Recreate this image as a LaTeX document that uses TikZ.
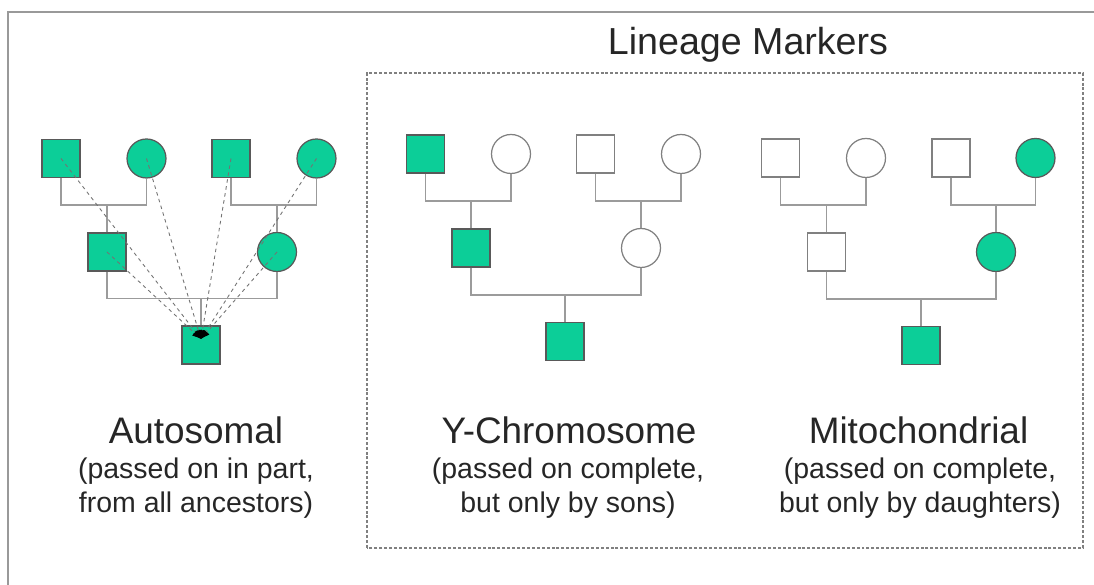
\documentclass[tikz,border=0pt]{standalone}
\usepackage{fontspec}
\setmainfont{Liberation Sans}
\usepackage{xcolor}
\usepackage{tikz}
\usetikzlibrary{arrows.meta,calc}

\definecolor{marker}{RGB}{12,206,152}
\definecolor{linegray}{RGB}{155,155,155}

% parents joined by a bar, child hanging from it
\newcommand{\couple}[3]{
    \coordinate (bar) at ($(#1.south)!0.5!(#3.north)$);
    \draw[link] (#1.south) -- (#1.south |- bar) -- (#2.south |- bar) -- (#2.south);
    \draw[link] (#3.north) -- (#3.north |- bar);
}

\tikzset{
    male/.style={rectangle, draw=black!50, line width=0.7pt, minimum size=0.76cm, inner sep=0pt},
    female/.style={circle, draw=black!50, line width=0.7pt, minimum size=0.78cm, inner sep=0pt},
    marked/.style={fill=marker, draw=black!65},
    link/.style={draw=linegray, line width=1.1pt},
    gene/.style={draw=black!55, line width=0.5pt, dash pattern=on 2pt off 2pt,
        -{Latex[black,length=5pt,width=4pt]}},
    heading/.style={font=\fontsize{21}{25}\selectfont, anchor=base, text=black!85},
    remark/.style={font=\fontsize{16.2}{19.4}\selectfont, anchor=base, text=black!85},
}

\begin{document}
\begin{tikzpicture}
        \useasboundingbox (0,0) rectangle (21.88,11.7);

        % page frame and the lineage box
        \draw[black!40, line width=1pt] (0.16,0) |- (21.88,11.46);
        \draw[black!50, line width=0.7pt, dash pattern=on 1.7pt off 1.1pt] (7.34,0.74) rectangle (21.66,10.24);
        \node[heading, font=\fontsize{21.4}{25}\selectfont] (title) at (14.96,10.6) {Lineage Markers};

        % autosomal family
        \node[male,marked] (a1) at (1.22,8.53) {};
        \node[female,marked] (a2) at (2.93,8.53) {};
        \node[male,marked] (a3) at (4.62,8.53) {};
        \node[female,marked] (a4) at (6.33,8.53) {};
        \node[male,marked] (a5) at (2.14,6.66) {};
        \node[female,marked] (a6) at (5.54,6.66) {};
        \node[male,marked] (a7) at (4.02,4.80) {};

        % y-chromosome family
        \node[male,marked] (y1) at (8.51,8.62) {};
        \node[female] (y2) at (10.22,8.62) {};
        \node[male] (y3) at (11.91,8.62) {};
        \node[female] (y4) at (13.62,8.62) {};
        \node[male,marked] (y5) at (9.42,6.74) {};
        \node[female] (y6) at (12.82,6.74) {};
        \node[male,marked] (y7) at (11.30,4.87) {};

        % mitochondrial family
        \node[male] (m1) at (15.61,8.54) {};
        \node[female] (m2) at (17.32,8.54) {};
        \node[male] (m3) at (19.02,8.54) {};
        \node[female,marked] (m4) at (20.71,8.54) {};
        \node[male] (m5) at (16.53,6.66) {};
        \node[female,marked] (m6) at (19.92,6.66) {};
        \node[male,marked] (m7) at (18.42,4.79) {};

        % marriage lines
        \couple{a1}{a2}{a5}
        \couple{a3}{a4}{a6}
        \couple{a5}{a6}{a7}
        \couple{y1}{y2}{y5}
        \couple{y3}{y4}{y6}
        \couple{y5}{y6}{y7}
        \couple{m1}{m2}{m5}
        \couple{m3}{m4}{m6}
        \couple{m5}{m6}{m7}

        % every ancestor gives a piece
        \coordinate (hit) at ([yshift=0.12cm]a7.center);
        \draw[gene] (a1.center) -- (hit);
        \draw[gene] (a2.center) -- (hit);
        \draw[gene] (a3.center) -- (hit);
        \draw[gene] (a4.center) -- (hit);
        \draw[gene] (a5.center) -- (hit);
        \draw[gene] (a6.center) -- (hit);

        % captions
        \node[heading] (auto) at (3.92,2.82) {Autosomal};
        \node[remark] (auto1) at (3.92,2.12) {(passed on in part,};
        \node[remark] (auto2) at (3.92,1.44) {from all ancestors)};
        \node[heading] (ychr) at (11.38,2.82) {Y-Chromosome};
        \node[remark] (ychr1) at (11.36,2.12) {(passed on complete,};
        \node[remark] (ychr2) at (11.36,1.44) {but only by sons)};
        \node[heading] (mito) at (18.37,2.82) {Mitochondrial};
        \node[remark] (mito1) at (18.40,2.12) {(passed on complete,};
        \node[remark] (mito2) at (18.40,1.44) {but only by daughters)};

    \end{tikzpicture}
\end{document}
